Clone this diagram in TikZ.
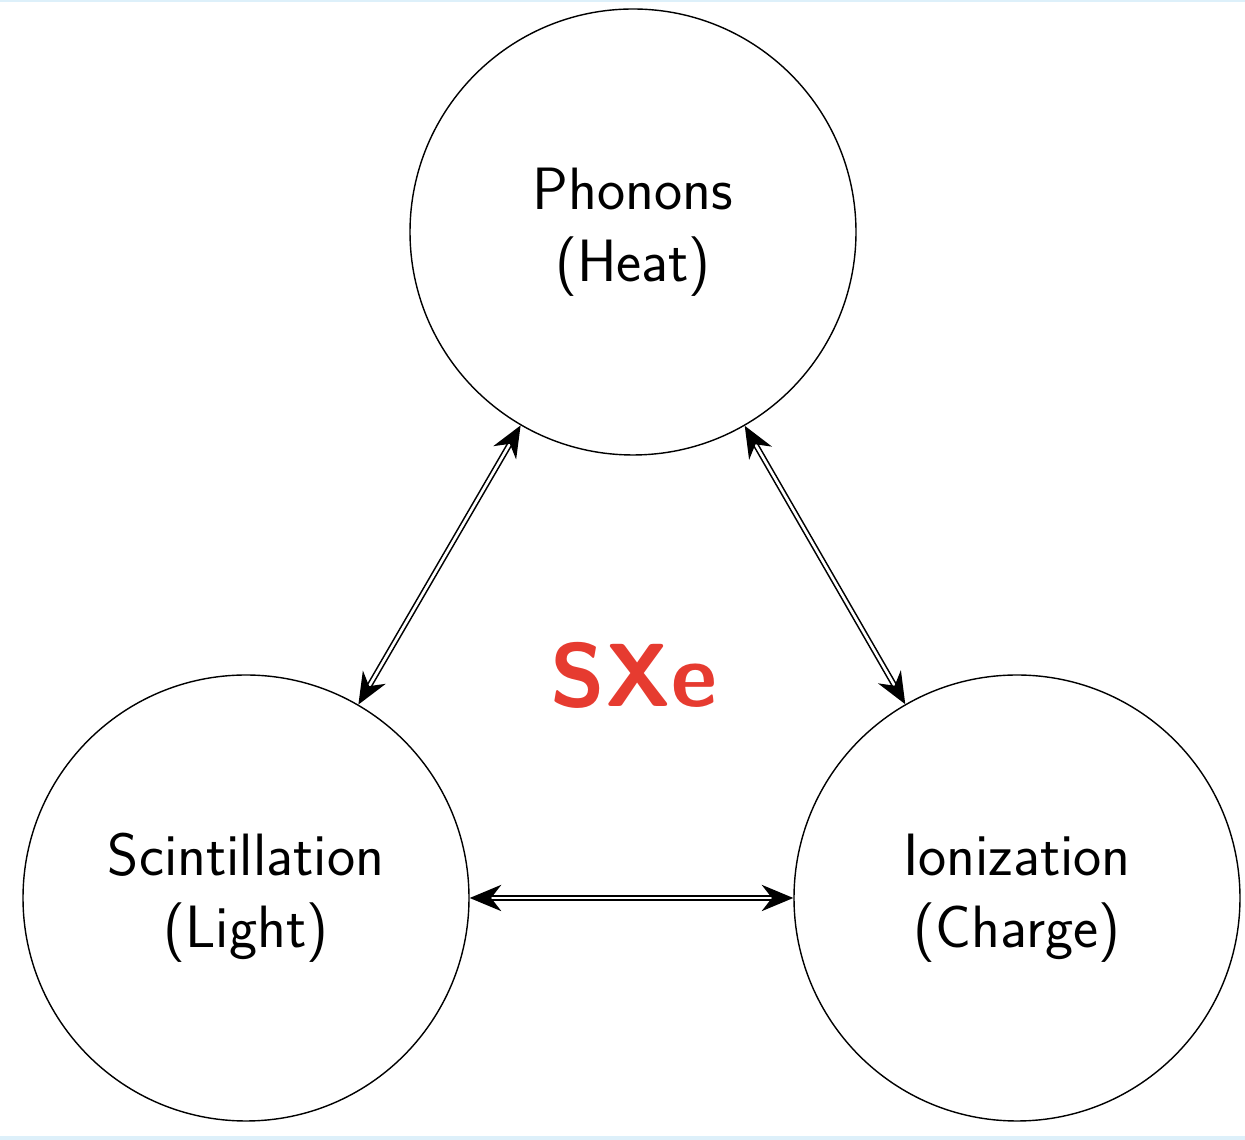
\documentclass[tikz,border=0pt]{standalone}
\usepackage{tikz}
\usetikzlibrary{arrows.meta}
\definecolor{sxered}{HTML}{E63B30}
\definecolor{edgeblue}{HTML}{DDF0FA}

\begin{document}
\begin{tikzpicture}[line join=round, line cap=round,
	font=\sffamily\fontsize{34}{41}\selectfont,
	channel/.style={draw, circle, line width=0.8pt, minimum size=8.92cm, inner sep=0pt, align=center},
	link/.style={double, double distance=1.5pt, line width=0.9pt,
		{Stealth[length=18pt, width=15pt]}-{Stealth[length=18pt, width=15pt]}}]
	\useasboundingbox (0,0) rectangle (24.9,22.8);
	\fill[edgeblue] (0,22.76) rectangle (24.9,22.8);
	\fill[edgeblue] (0,0) rectangle (24.9,0.08);
	\node[channel] (heat) at (12.66,18.16) {Phonons\\(Heat)};
	\node[channel] (light) at (4.92,4.84) {Scintillation\\(Light)};
	\node[channel] (charge) at (20.34,4.84) {Ionization\\(Charge)};
	\node[text=sxered, font=\sffamily\bfseries\fontsize{51}{60}\selectfont] (sxe) at (12.68,9.3) {SXe};
	\draw[link] (heat) -- (light);
	\draw[link] (heat) -- (charge);
	\draw[link] (light) -- (charge);
\end{tikzpicture}
\end{document}
